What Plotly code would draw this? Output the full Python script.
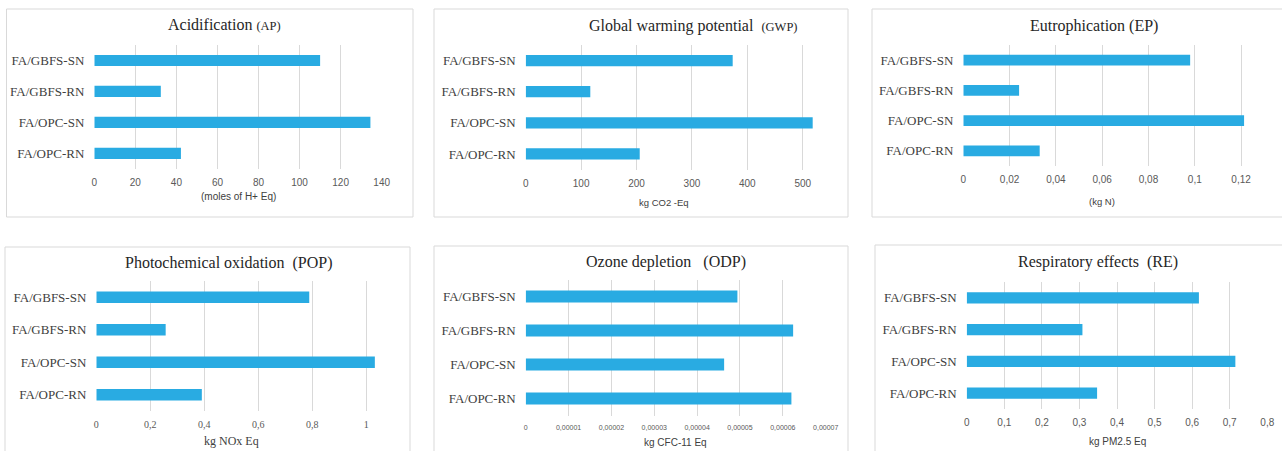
import plotly.graph_objects as go

W, H = 1282, 451

# Categories listed bottom to top
categories = ["FA/OPC-RN", "FA/OPC-SN", "FA/GBFS-RN", "FA/GBFS-SN"]

ap_values = [42.2, 134.5, 32.4, 110.0]
gwp_values = [205.8, 518.0, 116.6, 373.6]
ep_values = [0.033, 0.1213, 0.0241, 0.098]
pop_values = [0.391, 1.032, 0.257, 0.789]
odp_values = [0.0000620, 0.0000463, 0.0000624, 0.0000494]
re_values = [0.347, 0.715, 0.308, 0.618]

ap_ticks = [0, 20, 40, 60, 80, 100, 120, 140]
ap_ticktext = ["0", "20", "40", "60", "80", "100", "120", "140"]
gwp_ticks = [0, 100, 200, 300, 400, 500]
gwp_ticktext = ["0", "100", "200", "300", "400", "500"]
ep_ticks = [0, 0.02, 0.04, 0.06, 0.08, 0.1, 0.12]
ep_ticktext = ["0", "0,02", "0,04", "0,06", "0,08", "0,1", "0,12"]
pop_ticks = [0, 0.2, 0.4, 0.6, 0.8, 1.0]
pop_ticktext = ["0", "0,2", "0,4", "0,6", "0,8", "1"]
odp_ticks = [0, 0.00001, 0.00002, 0.00003, 0.00004, 0.00005, 0.00006, 0.00007]
odp_ticktext = ["0", "0,00001", "0,00002", "0,00003", "0,00004", "0,00005", "0,00006", "0,00007"]
re_ticks = [0, 0.1, 0.2, 0.3, 0.4, 0.5, 0.6, 0.7, 0.8]
re_ticktext = ["0", "0,1", "0,2", "0,3", "0,4", "0,5", "0,6", "0,7", "0,8"]

titles = [
    "Acidification <span style='font-size:12.5px'>(AP)</span>",
    "Global warming potential  <span style='font-size:12.5px'>(GWP)</span>",
    "Eutrophication (EP)",
    "Photochemical oxidation  (POP)",
    "Ozone depletion   (ODP)",
    "Respiratory effects  (RE)",
]
units = ["(moles of H+ Eq)", "kg CO2 -Eq", "(kg N)", "kg NOx Eq", "kg CFC-11 Eq", "kg PM2.5 Eq"]

SERIF = "Liberation Serif, Times New Roman, serif"
SANS = "Liberation Sans, Arial, sans-serif"
BAR = "#29abe2"
GRID = "#d9d9d9"
TXT = "#404040"

# Per-panel layout in pixels
panels = [
    dict(v=ap_values, tv=ap_ticks, tt=ap_ticktext, rng=[0, 140], x=(94.3, 381.7), y=(45, 168.8),
         box=(6.5, 9, 413, 217), ttl=(224.7, 25), unit_y=196, tickfont=(SANS, 10, "#595959"), unitfont=(SANS, 10)),
    dict(v=gwp_values, tv=gwp_ticks, tt=gwp_ticktext, rng=[0, 520], x=(525.7, 813.8), y=(45, 169.5),
         box=(434, 9, 848, 217), ttl=(693.8, 26), unit_y=202, tickfont=(SANS, 10, "#595959"), unitfont=(SANS, 9.5)),
    dict(v=ep_values, tv=ep_ticks, tt=ep_ticktext, rng=[0, 0.122], x=(963.3, 1245.7), y=(45, 166),
         box=(872, 9, 1290, 217), ttl=(1094, 26), unit_y=201, tickfont=(SANS, 10, "#595959"), unitfont=(SANS, 9.5)),
    dict(v=pop_values, tv=pop_ticks, tt=pop_ticktext, rng=[0, 1.04], x=(96.3, 377), y=(281, 411),
         box=(5, 247, 410, 460), ttl=(229.3, 263), unit_y=441, tickfont=(SERIF, 10, "#595959"), unitfont=(SERIF, 12)),
    dict(v=odp_values, tv=odp_ticks, tt=odp_ticktext, rng=[0, 0.00007], x=(525.7, 825.7), y=(279.5, 415.5),
         box=(434, 246, 848, 460), ttl=(665.8, 262), unit_y=442, tickfont=(SANS, 7, "#595959"), unitfont=(SANS, 10)),
    dict(v=re_values, tv=re_ticks, tt=re_ticktext, rng=[0, 0.8], x=(966.7, 1267.3), y=(282, 409),
         box=(875, 245, 1290, 460), ttl=(1098, 262), unit_y=441, tickfont=(SANS, 10, "#595959"), unitfont=(SANS, 10)),
]

fig = go.Figure()
shapes = []
annotations = []
layout_axes = {}

for i, p in enumerate(panels):
    n = "" if i == 0 else str(i + 1)
    xa, ya = "x" + n, "y" + n
    fig.add_trace(go.Bar(
        x=p["v"], y=categories, orientation="h", xaxis=xa, yaxis=ya,
        marker=dict(color=BAR, line=dict(width=0)), width=0.36, showlegend=False,
        hoverinfo="x+y",
    ))
    x0, x1 = p["x"]
    yt, yb = p["y"]
    tf = p["tickfont"]
    layout_axes["xaxis" + n] = dict(
        domain=[x0 / W, x1 / W], range=p["rng"], anchor=ya, automargin=False,
        tickvals=p["tv"], ticktext=p["tt"], showgrid=True, gridcolor=GRID, gridwidth=1,
        zeroline=False, showline=False, ticks="", ticklabelstandoff=6,
        tickfont=dict(family=tf[0], size=tf[1], color=tf[2]), fixedrange=True,
    )
    layout_axes["yaxis" + n] = dict(
        domain=[1 - yb / H, 1 - yt / H], anchor=xa, type="category", automargin=False,
        categoryorder="array", categoryarray=categories, range=[-0.5, 3.5],
        showgrid=False, zeroline=False, showline=False, ticks="", ticklabelstandoff=9,
        tickfont=dict(family=SERIF, size=13, color=TXT), fixedrange=True,
    )
    bx0, by0, bx1, by1 = p["box"]
    shapes.append(dict(type="rect", xref="paper", yref="paper",
                       x0=bx0 / W, x1=bx1 / W, y0=1 - by1 / H, y1=1 - by0 / H,
                       line=dict(color=GRID, width=1), fillcolor="rgba(0,0,0,0)", layer="below"))
    tx, ty = p["ttl"]
    annotations.append(dict(text=titles[i], xref="paper", yref="paper", x=tx / W, y=1 - ty / H,
                            xanchor="center", yanchor="middle", showarrow=False,
                            font=dict(family=SERIF, size=16, color="#262626")))
    # unit label centred under the ticked span of the axis
    span_px = (p["tv"][-1] - p["rng"][0]) / (p["rng"][1] - p["rng"][0]) * (x1 - x0)
    uf = p["unitfont"]
    annotations.append(dict(text=units[i], xref="paper", yref="paper", x=(x0 + span_px / 2) / W,
                            y=1 - p["unit_y"] / H, xanchor="center", yanchor="middle", showarrow=False,
                            font=dict(family=uf[0], size=uf[1], color=TXT)))

fig.update_layout(
    width=W, height=H, autosize=False,
    margin=dict(l=0, r=0, t=0, b=0, pad=0),
    paper_bgcolor="white", plot_bgcolor="white",
    shapes=shapes, annotations=annotations,
    bargap=0.64, **layout_axes,
)

fig.write_html("out.html", config=dict(displayModeBar=False))
